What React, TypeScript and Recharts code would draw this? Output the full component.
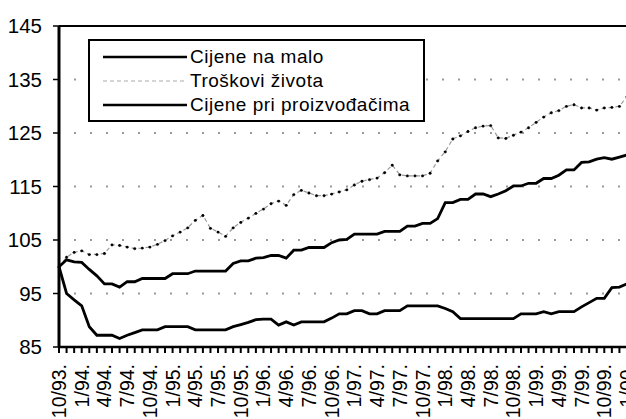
import {
  LineChart,
  Line,
  XAxis,
  YAxis,
  CartesianGrid,
  ReferenceLine,
} from 'recharts';

const months = [
  '10/93', '11/93', '12/93',
  '1/94', '2/94', '3/94', '4/94', '5/94', '6/94', '7/94', '8/94', '9/94', '10/94', '11/94', '12/94',
  '1/95', '2/95', '3/95', '4/95', '5/95', '6/95', '7/95', '8/95', '9/95', '10/95', '11/95', '12/95',
  '1/96', '2/96', '3/96', '4/96', '5/96', '6/96', '7/96', '8/96', '9/96', '10/96', '11/96', '12/96',
  '1/97', '2/97', '3/97', '4/97', '5/97', '6/97', '7/97', '8/97', '9/97', '10/97', '11/97', '12/97',
  '1/98', '2/98', '3/98', '4/98', '5/98', '6/98', '7/98', '8/98', '9/98', '10/98', '11/98', '12/98',
  '1/99', '2/99', '3/99', '4/99', '5/99', '6/99', '7/99', '8/99', '9/99', '10/99', '11/99', '12/99',
  '1/00',
];

// Cijene na malo
const retail = [
  100.0, 101.3, 100.9, 100.8, 99.5, 98.3, 96.8, 96.8, 96.2, 97.2,
  97.2, 97.8, 97.8, 97.8, 97.8, 98.7, 98.7, 98.7, 99.2, 99.2,
  99.2, 99.2, 99.2, 100.6, 101.1, 101.1, 101.6, 101.7, 102.1, 102.1,
  101.6, 103.1, 103.1, 103.6, 103.6, 103.6, 104.5, 105.0, 105.1, 106.1,
  106.1, 106.1, 106.1, 106.6, 106.6, 106.6, 107.6, 107.6, 108.1, 108.1,
  109.0, 112.0, 112.0, 112.6, 112.6, 113.6, 113.6, 113.1, 113.6, 114.2,
  115.1, 115.1, 115.6, 115.6, 116.5, 116.5, 117.1, 118.1, 118.1, 119.5,
  119.6, 120.1, 120.4, 120.1, 120.5, 120.9,
];

// Troškovi života
const costOfLiving = [
  100.0, 101.8, 102.7, 103.0, 102.3, 102.3, 102.5, 104.1, 104.0, 103.7,
  103.4, 103.5, 103.7, 104.2, 104.9, 105.8, 106.5, 107.3, 108.7, 109.6,
  107.2, 106.5, 105.7, 107.3, 108.3, 109.1, 110.0, 110.8, 111.8, 112.3,
  111.5, 113.5, 114.3, 113.8, 113.3, 113.3, 113.6, 114.0, 114.4, 115.3,
  116.0, 116.3, 116.6, 117.6, 119.0, 117.2, 117.0, 117.0, 117.0, 117.5,
  119.8, 121.5, 123.9, 124.5, 125.3, 126.0, 126.3, 126.4, 124.1, 124.0,
  124.6, 125.2, 126.0, 127.0, 128.0, 128.8, 129.2, 130.0, 130.3, 129.7,
  129.7, 129.3, 129.7, 129.8, 130.0, 131.8,
];

// Cijene pri proizvođačima
const producer = [
  100.0, 95.0, 93.8, 92.7, 88.8, 87.2, 87.2, 87.2, 86.6, 87.2,
  87.7, 88.2, 88.2, 88.2, 88.8, 88.8, 88.8, 88.8, 88.2, 88.2,
  88.2, 88.2, 88.2, 88.8, 89.2, 89.6, 90.1, 90.2, 90.2, 89.1,
  89.7, 89.1, 89.7, 89.7, 89.7, 89.7, 90.4, 91.2, 91.2, 91.8,
  91.8, 91.2, 91.2, 91.8, 91.8, 91.8, 92.7, 92.7, 92.7, 92.7,
  92.7, 92.2, 91.6, 90.3, 90.3, 90.3, 90.3, 90.3, 90.3, 90.3,
  90.3, 91.2, 91.2, 91.2, 91.6, 91.2, 91.6, 91.6, 91.6, 92.5,
  93.3, 94.1, 94.1, 96.1, 96.2, 96.8,
];

const yTicks = [85, 95, 105, 115, 125, 135, 145];

const data = months.map((m, i) => ({
  month: m,
  retail: retail[i],
  costOfLiving: costOfLiving[i],
  producer: producer[i],
}));

const FONT = '"Liberation Sans", Arial, sans-serif';

// only every third month (1, 4, 7, 10) gets a label
function MonthTick(props: any) {
  const { x, y, payload } = props;
  const m = Number(String(payload.value).split('/')[0]);
  if (m % 3 !== 1) return null;
  return (
    <text
      x={x}
      y={y}
      dy="0.36em"
      transform={`rotate(-90, ${x}, ${y})`}
      textAnchor="end"
      fontSize={19.5}
      fontFamily={FONT}
      fill="#000"
    >
      {payload.value + '.'}
    </text>
  );
}

function LegendBox() {
  const rows = [
    { name: 'Cijene na malo', dash: undefined, color: '#000', width: 2.5 },
    { name: 'Troškovi života', dash: '4 3', color: '#aaa', width: 1 },
    { name: 'Cijene pri proizvođačima', dash: undefined, color: '#000', width: 2.5 },
  ];
  return (
    <div
      style={{
        position: 'absolute',
        left: 88,
        top: 39,
        width: 333,
        height: 79,
        border: '2px solid #000',
        background: '#fff',
        fontFamily: FONT,
        fontSize: 19,
        letterSpacing: 0.5,
      }}
    >
      {rows.map((r, i) => (
        <div
          key={r.name}
          style={{
            position: 'absolute',
            left: 13,
            top: 4 + i * 24,
            height: 24,
            display: 'flex',
            alignItems: 'center',
            whiteSpace: 'nowrap',
          }}
        >
          <svg width={84} height={24} style={{ display: 'block' }}>
            <line
              x1={0}
              x2={84}
              y1={12}
              y2={12}
              stroke={r.color}
              strokeWidth={r.width}
              strokeDasharray={r.dash}
            />
          </svg>
          <span style={{ marginLeft: 3 }}>{r.name}</span>
        </div>
      ))}
    </div>
  );
}

export default function App() {
  return (
    <div
      style={{
        position: 'absolute',
        left: 0,
        top: 0,
        width: 626,
        height: 419,
        overflow: 'hidden',
        background: '#fff',
      }}
    >
      <LineChart
        width={640}
        height={460}
        data={data}
        margin={{ top: 26, right: 13, left: 0, bottom: 0 }}
      >
        <CartesianGrid
          vertical={false}
          stroke="#999"
          strokeWidth={2}
          strokeDasharray="2 14"
          strokeDashoffset={1}
        />
        <ReferenceLine y={145} stroke="#000" strokeWidth={2} />
        <XAxis
          dataKey="month"
          interval={0}
          height={113}
          axisLine={{ stroke: '#000', strokeWidth: 2.5 }}
          tickLine={{ stroke: '#000', strokeWidth: 2 }}
          tickSize={6}
          tickMargin={11}
          tick={<MonthTick />}
        />
        <YAxis
          width={59}
          domain={[85, 145]}
          ticks={yTicks}
          interval={0}
          axisLine={{ stroke: '#000', strokeWidth: 3 }}
          tickLine={{ stroke: '#000', strokeWidth: 1.5 }}
          tickSize={6}
          tickMargin={11}
          tick={{ fill: '#000', fontSize: 20.5, fontFamily: FONT }}
        />
        <Line
          type="linear"
          dataKey="costOfLiving"
          stroke="#999"
          strokeWidth={1.2}
          strokeDasharray="4 3"
          dot={{ r: 1.3, fill: '#000', stroke: '#000', strokeWidth: 0.5 }}
          isAnimationActive={false}
        />
        <Line
          type="linear"
          dataKey="retail"
          stroke="#000"
          strokeWidth={2.8}
          dot={false}
          isAnimationActive={false}
        />
        <Line
          type="linear"
          dataKey="producer"
          stroke="#000"
          strokeWidth={2.8}
          dot={false}
          isAnimationActive={false}
        />
      </LineChart>
      <LegendBox />
    </div>
  );
}
